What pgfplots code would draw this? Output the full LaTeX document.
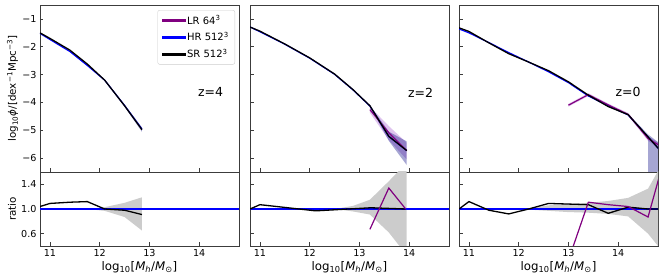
\documentclass[border=0pt]{standalone}
\usepackage{fontspec}
\setmainfont{DejaVu Sans}
\usepackage{pgfplots}
\pgfplotsset{compat=1.18}
\definecolor{lrc}{RGB}{128,0,128}
\definecolor{hrband}{RGB}{0,0,128}
\definecolor{lrband}{RGB}{150,60,200}
\definecolor{framec}{RGB}{60,60,60}
\tikzset{
 sr/.style={black,line width=1.3pt},
 hr/.style={blue,line width=1.2pt},
 lr/.style={lrc,line width=1.2pt},
 hrb/.style={fill=hrband,fill opacity=0.35,draw=none},
 lrb/.style={fill=lrband,fill opacity=0.3,draw=none},
 grb/.style={fill=black!20,draw=none},
 zlab/.style={font=\fontsize{12.5}{14}\selectfont},
}
\pgfplotsset{
 base/.style={scale only axis, width=199pt, xmin=10.8, xmax=14.8, tick align=inside,
   xtick pos=left, ytick pos=left, axis line style={framec,line width=0.8pt},
   every tick/.style={framec,line width=0.7pt}, major tick length=3.5pt,
   xtick={11,12,13,14},
   tick label style={font=\fontsize{9.6}{11}\selectfont},
   label style={font=\fontsize{10.3}{12}\selectfont},
   /pgf/number format/assume math mode=true},
 top/.style={base, height=167pt, ymin=-6.5, ymax=-0.5, ytick={-6,-5,-4,-3,-2,-1}, xticklabels={}},
 bot/.style={base, height=74pt, ymin=0.4, ymax=1.6, ytick={0.6,1.0,1.4},
   xlabel={log\textsubscript{10}[\textit{M}\textsubscript{\textit{h}}/\textit{M}\textsubscript{⊙}]},
   xlabel style={at={(axis description cs:0.5,-0.29)},anchor=center,font=\fontsize{11.8}{13}\selectfont}},
}
\begin{document}
\begin{tikzpicture}
\path[use as bounding box] (0,0) rectangle (664pt,280pt);
% ---------------- panel 1, z=4 ----------------
\begin{axis}[top, at={(40pt,108pt)}, anchor=south west,
  yticklabels={−6,−5,−4,−3,−2,−1},
  ylabel={log\textsubscript{10}\textit{ϕ}/[dex\textsuperscript{−1}Mpc\textsuperscript{−3}]},
  ylabel style={at={(axis description cs:-0.138,0.5)},anchor=center},
  legend style={at={(axis description cs:0.98,0.97)},anchor=north east,
    draw=black!20, rounded corners=2pt, font=\fontsize{10}{11.5}\selectfont,
    row sep=2.6pt, inner xsep=4pt, inner ysep=3pt},
  legend cell align=left]
\addplot[hrb,forget plot] coordinates {(12.1,-3.19)(12.5,-4.08)(12.85,-4.90)(12.85,-5.06)(12.5,-4.16)(12.1,-3.22)(12.1,-3.19)};
\addplot[hr,forget plot] coordinates {(10.8,-1.52)(11.0,-1.74)(11.4,-2.17)(11.75,-2.67)(12.1,-3.20)(12.5,-4.11)(12.85,-4.96)};
\addplot[sr,forget plot] coordinates {(10.8,-1.50)(11.0,-1.70)(11.4,-2.12)(11.75,-2.62)(12.1,-3.20)(12.5,-4.12)(12.85,-4.98)};
\addlegendimage{legend image code/.code={\fill[lrc,sharp corners] (0pt,-0.8pt) rectangle (23pt,0.8pt);}}
\addlegendentry{LR 64\textsuperscript{3}}
\addlegendimage{legend image code/.code={\fill[blue,sharp corners] (0pt,-0.8pt) rectangle (23pt,0.8pt);}}
\addlegendentry{HR 512\textsuperscript{3}}
\addlegendimage{legend image code/.code={\fill[black,sharp corners] (0pt,-0.8pt) rectangle (23pt,0.8pt);}}
\addlegendentry{SR 512\textsuperscript{3}}
\node[zlab] at (axis cs:14.23,-3.64) {z=4};
\end{axis}
\begin{axis}[bot, at={(40pt,34pt)}, anchor=south west,
  yticklabels={0.6,1.0,1.4}, ylabel={ratio},
  ylabel style={at={(axis description cs:-0.14,0.5)},anchor=center}]
\addplot[grb] coordinates {(11.75,1.0)(12.1,0.97)(12.5,0.87)(12.85,0.65)(12.85,1.19)(12.5,1.10)(12.1,1.03)(11.75,1.0)};
\addplot[hr] coordinates {(10.8,1.0)(14.8,1.0)};
\addplot[sr] coordinates {(10.8,1.04)(11.0,1.09)(11.4,1.11)(11.75,1.12)(12.1,1.0)(12.5,0.98)(12.85,0.91)};
\end{axis}
% ---------------- panel 2, z=2 ----------------
\begin{axis}[top, at={(250pt,108pt)}, anchor=south west, yticklabels={}]
\addplot[lrb] coordinates {(13.21,-4.15)(13.59,-4.85)(13.95,-5.45)(13.95,-6.05)(13.59,-5.35)(13.21,-4.37)(13.21,-4.15)};
\addplot[hrb] coordinates {(13.21,-4.10)(13.59,-5.05)(13.95,-5.40)(13.95,-6.25)(13.59,-5.38)(13.21,-4.14)(13.21,-4.10)};
\addplot[hr] coordinates {(10.8,-1.29)(11.0,-1.46)(11.5,-1.91)(12.0,-2.41)(12.5,-2.99)(12.87,-3.55)(13.21,-4.13)(13.59,-5.22)(13.95,-5.73)};
\addplot[lr] coordinates {(13.21,-4.26)(13.59,-5.09)(13.95,-5.73)};
\addplot[sr] coordinates {(10.8,-1.29)(11.0,-1.44)(11.5,-1.90)(12.0,-2.40)(12.5,-2.98)(12.87,-3.54)(13.21,-4.12)(13.59,-5.22)(13.95,-5.73)};
\node[zlab] at (axis cs:14.23,-3.64) {z=2};
\end{axis}
\begin{axis}[bot, at={(250pt,34pt)}, anchor=south west, yticklabels={}]
\addplot[grb] coordinates {(12.5,1.0)(12.87,0.96)(13.21,0.91)(13.59,0.62)(13.95,0.25)(13.95,1.75)(13.59,1.45)(13.21,1.15)(12.87,1.05)(12.5,1.0)};
\addplot[hr] coordinates {(10.8,1.0)(14.8,1.0)};
\addplot[sr] coordinates {(10.8,1.0)(11.0,1.07)(12.12,0.97)(13.23,1.02)(13.93,1.0)};
\addplot[lr] coordinates {(13.21,0.67)(13.59,1.34)(13.93,1.0)};
\end{axis}
% ---------------- panel 3, z=0 ----------------
\begin{axis}[top, at={(459pt,108pt)}, anchor=south west, yticklabels={}]
\addplot[lrb] coordinates {(13.0,-4.05)(13.4,-3.67)(13.8,-4.04)(14.2,-4.38)(14.6,-5.22)(15.0,-5.65)(15.0,-5.85)(14.6,-5.38)(14.2,-4.48)(13.8,-4.14)(13.4,-3.77)(13.0,-4.15)(13.0,-4.05)};
\addplot[hrb] coordinates {(14.2,-4.42)(14.6,-5.15)(15.0,-5.70)(15.0,-9)(14.6,-9)(14.6,-5.30)(14.2,-4.47)(14.2,-4.42)};
\addplot[hr] coordinates {(10.8,-1.36)(11.0,-1.50)(11.4,-1.85)(11.8,-2.21)(12.2,-2.55)(12.6,-2.90)(13.0,-3.29)(13.4,-3.77)(13.8,-4.12)(14.2,-4.45)(14.6,-5.24)(15.0,-6.04)};
\addplot[lr] coordinates {(13.0,-4.10)(13.4,-3.72)(13.8,-4.09)(14.2,-4.43)(14.6,-5.30)(15.0,-5.73)};
\addplot[sr] coordinates {(10.8,-1.32)(11.0,-1.45)(11.4,-1.86)(11.8,-2.25)(12.2,-2.55)(12.6,-2.86)(13.0,-3.26)(13.4,-3.74)(13.8,-4.15)(14.2,-4.44)(14.6,-5.24)(15.0,-6.04)};
\node[zlab] at (axis cs:14.2,-3.64) {z=0};
\end{axis}
\begin{axis}[bot, at={(459pt,34pt)}, anchor=south west, yticklabels={}]
\addplot[grb] coordinates {(12.2,0.99)(12.6,0.97)(13.0,0.95)(13.4,0.94)(13.8,0.92)(14.2,0.88)(14.6,0.6)(15.0,0.2)(15.0,1.9)(14.6,1.33)(14.2,1.18)(13.8,1.13)(13.4,1.1)(13.0,1.08)(12.6,1.06)(12.2,1.01)(12.2,0.99)};
\addplot[hr] coordinates {(10.8,1.0)(14.8,1.0)};
\addplot[sr] coordinates {(10.8,1.0)(11.0,1.12)(11.4,0.98)(11.8,0.92)(12.2,1.0)(12.6,1.09)(13.0,1.08)(13.4,1.07)(13.8,0.93)(14.2,1.03)(14.6,1.0)(15.0,1.0)};
\addplot[lr] coordinates {(13.0,0.17)(13.4,1.11)(13.8,1.07)(14.2,1.04)(14.6,0.87)(15.0,2.03)};
\end{axis}
\end{tikzpicture}
\end{document}
